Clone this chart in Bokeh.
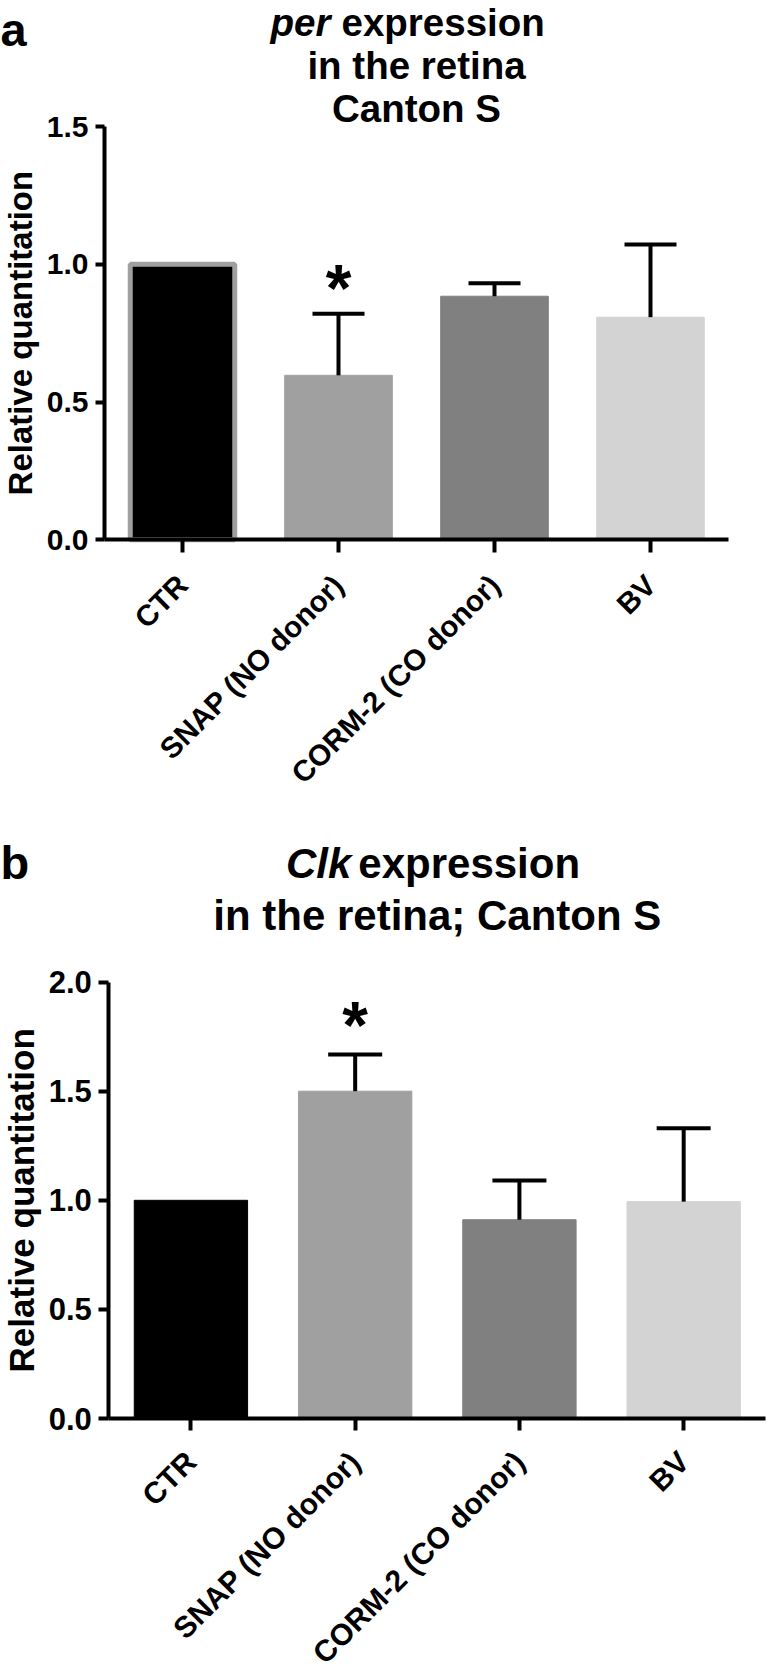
import math
from bokeh.plotting import figure
from bokeh.models import (ColumnDataSource, Range1d, FixedTicker,
                          PrintfTickFormatter, Whisker, TeeHead, Label)
from bokeh.layouts import column
from bokeh.core.properties import value
from bokeh.embed import file_html
from bokeh.resources import INLINE

# ---------------- data ----------------
categories = ["CTR", "SNAP (NO donor)", "CORM-2 (CO donor)", "BV"]

per_mean = [1.0, 0.597, 0.884, 0.808]
per_err = [0.0, 0.223, 0.047, 0.264]
per_sig = ["", "*", "", ""]
per_ticks = [0.0, 0.5, 1.0, 1.5]

clk_mean = [1.0, 1.5, 0.911, 0.994]
clk_err = [0.0, 0.168, 0.180, 0.336]
clk_sig = ["", "*", "", ""]
clk_ticks = [0.0, 0.5, 1.0, 1.5, 2.0]

# ---------------- style ----------------
FONT = "Liberation Sans"
bar_colors = ["#000000", "#a0a0a0", "#808080", "#d3d3d3"]
MID = 0.3465  # distance (in em) from alphabetic baseline to text middle


def build(letter, t_italic, t_rest, extra_lines, mean, err, sig, ticks, c):
    n = len(categories)
    pos = list(range(n))
    ymax = ticks[-1]
    W, H = c["width"], c["height"]
    # plot box (pixels, from canvas top-left)
    L, T, FW, FH = c["left"], c["top"], c["fw"], c["fh"]
    ppc = FW / n           # pixels per category
    ppu = FH / ymax        # pixels per data unit
    x0 = -0.5 - L / ppc
    y0 = -(H - T - FH) / ppu
    p = figure(x_range=Range1d(x0, x0 + W / ppc), y_range=Range1d(y0, y0 + H / ppu),
               width=W, height=H, output_backend="svg", toolbar_location=None,
               min_border=0, min_border_left=0, min_border_right=0,
               min_border_top=0, min_border_bottom=0)
    p.outline_line_color = None
    p.xgrid.visible = False
    p.ygrid.visible = False
    p.background_fill_color = "white"
    p.border_fill_color = "white"

    # bars
    src = ColumnDataSource(dict(x=pos, mean=mean, color=bar_colors,
                                lc=c["edge_colors"], lw=c["edge_widths"], w=c["bar_widths"]))
    p.vbar(x="x", top="mean", bottom=0, width="w", source=src,
           fill_color="color", line_color="lc", line_width="lw")

    # error bars (upper only)
    idx = [i for i in pos if err[i] > 0]
    wsrc = ColumnDataSource(dict(x=[pos[i] for i in idx],
                                 lo=[mean[i] for i in idx],
                                 hi=[mean[i] + err[i] for i in idx]))
    wh = Whisker(base="x", lower="lo", upper="hi", source=wsrc, dimension="height",
                 line_width=4, line_color="black", level="overlay",
                 upper_head=TeeHead(size=c["cap"], line_width=4, line_color="black"),
                 lower_head=None)
    p.add_layout(wh)

    # significance marks
    sidx = [i for i in pos if sig[i]]
    ssrc = ColumnDataSource(dict(x=[pos[i] for i in sidx],
                                 y=[mean[i] + err[i] + c["star_gap"] / ppu for i in sidx],
                                 t=[sig[i] for i in sidx]))
    p.text(x="x", y="y", text="t", source=ssrc, text_font=value(FONT),
           text_font_size=c["star_fs"], text_font_style="bold", text_color="black",
           text_align="center", text_baseline="alphabetic")

    # x axis (fixed at y = 0)
    xa = p.xaxis[0]
    xa.fixed_location = 0
    xa.bounds = (-0.5, n - 0.5)
    xa.ticker = FixedTicker(ticks=pos)
    xa.major_label_overrides = {i: categories[i] for i in pos}
    xa.axis_line_width = 4
    xa.axis_line_color = "black"
    xa.major_tick_line_width = 4
    xa.major_tick_line_color = "black"
    xa.major_tick_out = c["xtick"]
    xa.major_tick_in = 0
    xa.minor_tick_out = 0
    xa.minor_tick_in = 0
    xa.major_label_orientation = math.pi / 4
    xa.major_label_text_font = FONT
    xa.major_label_text_font_size = c["xl_fs"]
    xa.major_label_text_font_style = "bold"
    xa.major_label_text_color = "black"
    xa.major_label_standoff = c["xl_so"]

    # y axis (fixed at left edge of the first category slot)
    ya = p.yaxis[0]
    ya.fixed_location = -0.5
    ya.bounds = (0, ymax)
    ya.ticker = FixedTicker(ticks=ticks)
    ya.formatter = PrintfTickFormatter(format="%.1f")
    ya.axis_line_width = 4
    ya.axis_line_color = "black"
    ya.major_tick_line_width = 4
    ya.major_tick_line_color = "black"
    ya.major_tick_out = c["ytick"]
    ya.major_tick_in = 0
    ya.minor_tick_out = 0
    ya.minor_tick_in = 0
    ya.major_label_text_font = FONT
    ya.major_label_text_font_size = c["yl_fs"]
    ya.major_label_text_font_style = "bold"
    ya.major_label_text_color = "black"
    ya.major_label_standoff = 7

    # text annotations in canvas pixels (x from left, baseline y from top)
    def lab(x, base_y, text, style, align, fs, angle=0.0):
        if angle:
            ax, ay = x - MID * fs, base_y
        else:
            ax, ay = x, base_y - MID * fs
        p.add_layout(Label(x=ax, y=H - ay, x_units="screen", y_units="screen",
                           text=text, text_font=FONT, text_font_size=f"{fs}px",
                           text_font_style=style, text_align=align, angle=angle,
                           text_baseline="middle", text_color="black"))

    xc = L + FW / 2
    lab(xc + c["split"][0], c["t1"], t_italic, "bold italic", "right", c["t_fs"])
    lab(xc + c["split"][1], c["t1"], t_rest, "bold", "left", c["t_fs"])
    for txt, yy in extra_lines:
        lab(xc, yy, txt, "bold", "center", c["t_fs"])
    lab(0, c["lt"], letter, "bold", "left", 47)
    lab(c["al_x"], T + FH / 2, "Relative quantitation", "bold", "center", c["al_fs"],
        angle=math.pi / 2)
    return p


cfg_a = dict(width=767, height=830, left=104, top=126, fw=624, fh=413.3,
             edge_colors=["#a0a0a0", "#a0a0a0", "#808080", "#d3d3d3"],
             edge_widths=[5, 1, 1, 1], bar_widths=[0.67, 0.69, 0.69, 0.69],
             cap=52, star_gap=26, star_fs="66px", xtick=13, ytick=9,
             xl_fs="29.5px", xl_so=27, yl_fs="30px", al_fs=33, al_x=31,
             t_fs=38.5, t1=35.5, split=(-86, -75), lt=45)

cfg_b = dict(width=767, height=844, left=108.3, top=151.6, fw=657, fh=436.4,
             edge_colors=["#000000", "#a0a0a0", "#808080", "#d3d3d3"],
             edge_widths=[1, 1, 1, 1], bar_widths=[0.69, 0.69, 0.69, 0.69],
             cap=54, star_gap=30, star_fs="66px", xtick=12, ytick=10,
             xl_fs="30px", xl_so=26, yl_fs="31px", al_fs=35, al_x=33,
             t_fs=42, t1=48, split=(-86, -79), lt=48)

pa = build("a", "per", "expression", [("in the retina", 78.5), ("Canton S", 121.7)],
           per_mean, per_err, per_sig, per_ticks, cfg_a)
pb = build("b", "Clk", "expression", [("in the retina; Canton S", 99.6)],
           clk_mean, clk_err, clk_sig, clk_ticks, cfg_b)

layout = column(pa, pb, spacing=0)
open("out.html", "w").write(file_html(layout, INLINE))
